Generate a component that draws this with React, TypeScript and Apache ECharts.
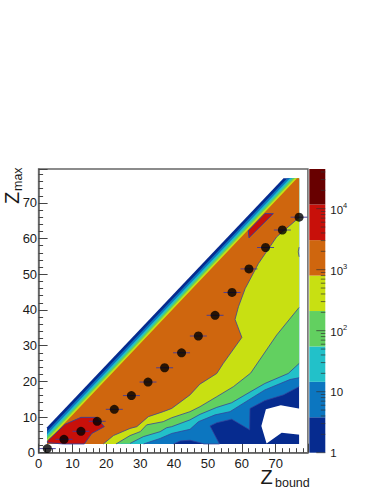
import React, { useEffect, useRef } from "react";
import * as echarts from "echarts";

type P = [number, number];

const xTickMax = 79.5;
const yTickMax = 79.5;
const binLeft = 2.5;
const binRight = 76.9;
const binBottom = 2.45;
const binTop = 76.9;

const bandColors = ["#062b8f", "#0c76c0", "#22c1c9", "#62d060", "#c8e012", "#cf660e", "#c8100a", "#680000"];
const bandEdges = [1, 3.81, 14.5, 55.2, 210, 800, 3050, 11700, 44700];
const diagOffsets = [4.6, 3.5, 2.7, 2.0, 1.3, 0.6];

const navyEdge: P[] = [[76.9, 2.45]];
const blueEdge: P[] = [[39.8, 2.45], [41.8, 3.3], [44.7, 3.5], [47.65, 2.8], [48.8, 2.45], [53.4, 2.45], [50.6, 7.5], [52.6, 8.4], [57, 9.4], [62.3, 6.4], [62.4, 12.4], [66.8, 14.6], [72.25, 16.2], [76.9, 18.5]];
const tealEdge: P[] = [[31, 2.45], [35.9, 4], [39.3, 5.4], [44.7, 6.55], [47.2, 8.7], [52.1, 10.6], [56.5, 11.5], [62.4, 15], [66.8, 17.6], [74.2, 20.5], [76.9, 21]];
const greenEdge: P[] = [[27, 2.6], [30.9, 4.5], [35.9, 5.9], [37.8, 7], [39.3, 7.3], [44.7, 9.2], [47.65, 10.75], [52.6, 12.7], [57, 14], [62.4, 17], [66.8, 19.4], [73.7, 22.2], [76.9, 25]];
const yellowEdge: P[] = [[22.85, 2.45], [27, 4.8], [30, 5.9], [31.9, 7.8], [36.8, 8.7], [39.3, 9.8], [44.7, 11.5], [47.65, 12.9], [52.6, 15.7], [57.5, 18.5], [62.6, 22.3], [70.3, 33], [76.9, 40.7]];
const orangeEdge: P[] = [[19.1, 2.45], [22.1, 4.8], [27, 6.8], [29, 7.3], [32.4, 10.1], [36.8, 11.5], [39.3, 12.4], [44.7, 16.2], [47.6, 19.2], [52.6, 22.2], [54.5, 25], [60, 32.3], [58, 37.35], [59, 40.9], [61, 46], [64.9, 53], [70.3, 60.5], [76.9, 65.9]];
const redMain: P[] = [[2.6, 3.3], [7.8, 7.95], [12.5, 9.9], [17.1, 9.9], [19.4, 7.3], [15.7, 5.4], [13.5, 2.45], [7.3, 2.45], [2.6, 2.8]];
const redIsland: P[] = [[61.9, 62.2], [66.8, 67], [69.3, 67], [62.1, 60.2]];
const orangeSpeck: P[] = [[76.9, 57.6], [76.65, 56.3], [76.9, 54.9]];
const holeEdge: P[] = [[67.1, 12.15], [71.5, 13.3], [77.2, 12.35], [77.2, 5], [71.76, 5.6], [67.3, 2.6], [65.76, 7.5]];

const pointX = [2.57, 7.5, 12.5, 17.3, 22.35, 27.4, 32.3, 37.2, 42.2, 47.16, 52.1, 57.1, 62.1, 67, 71.96, 76.9];
const pointY = [1.15, 3.76, 6, 8.8, 12.15, 16, 19.8, 23.8, 28, 32.7, 38.5, 44.9, 51.5, 57.5, 62.4, 66];
const errorHalfWidth = 2.5;

const barMajorTicks = [1, 10, 100, 1000, 10000];
const barMinorTicks = [2, 3, 4, 5, 6, 7, 8, 9, 20, 30, 40, 50, 60, 70, 80, 90, 200, 300, 400, 500, 600, 700, 800, 900, 2000, 3000, 4000, 5000, 6000, 7000, 8000, 9000, 20000, 30000, 40000];

const FONT = "'Liberation Sans', Arial, sans-serif";
const FRAME = "#666666";
const CONTOUR = "#34409a";

function band(edge: P[], d: number): P[] {
  return [[binLeft, binBottom], ...edge, [binRight, binTop], [binRight - d, binTop], [binLeft, binLeft + d]];
}

export default function App() {
  const ref = useRef<HTMLDivElement>(null);
  useEffect(() => {
    document.body.style.margin = "0";
    const chart = echarts.init(ref.current!, undefined, { renderer: "svg" });
    const edges = [navyEdge, blueEdge, tealEdge, greenEdge, yellowEdge, orangeEdge];
    const shapes: { type: string; pts: P[]; fill?: string; stroke?: string }[] = [];
    edges.forEach((e, i) => shapes.push({ type: "polygon", pts: band(e, diagOffsets[i]), fill: bandColors[i] }));
    shapes.push({ type: "polygon", pts: holeEdge, fill: "#ffffff" });
    shapes.push({ type: "polyline", pts: orangeSpeck, stroke: CONTOUR });
    shapes.push({ type: "polygon", pts: redMain, fill: bandColors[6], stroke: CONTOUR });
    shapes.push({ type: "polygon", pts: redIsland, fill: bandColors[6], stroke: CONTOUR });
    edges.slice(1).forEach((e) => shapes.push({ type: "polyline", pts: e, stroke: CONTOUR }));

    const barRects = bandColors.map((c, i) => ({ c, lo: bandEdges[i], hi: bandEdges[i + 1] }));
    const barTicks = [
      ...barMajorTicks.map((v) => ({ v, len: 9 })),
      ...barMinorTicks.map((v) => ({ v, len: 4.5 })),
    ];

    chart.setOption({
      animation: false,
      backgroundColor: "#ffffff",
      grid: [
        { left: 38.6, top: 169, width: 269.3, height: 283.7, show: true, borderColor: FRAME, borderWidth: 1.5, backgroundColor: "transparent" },
        { left: 309.3, top: 169, width: 16, height: 283.7 },
      ],
      xAxis: [
        {
          gridIndex: 0, type: "value", min: 0, max: xTickMax, interval: 10,
          axisLine: { show: true, lineStyle: { color: FRAME, width: 1.5 } },
          axisTick: { show: true, inside: true, length: 9, lineStyle: { color: "#444444", width: 1 } },
          minorTick: { show: true, splitNumber: 5, length: 4.5, lineStyle: { color: "#444444", width: 1 } },
          splitLine: { show: false },
          axisLabel: { show: true, margin: 4, fontFamily: FONT, fontSize: 13, color: "#1a1a1a", showMaxLabel: false },
        },
        { gridIndex: 1, type: "value", min: 0, max: 1, show: false },
      ],
      yAxis: [
        {
          gridIndex: 0, type: "value", min: 0, max: yTickMax, interval: 10,
          axisLine: { show: true, lineStyle: { color: FRAME, width: 1.5 } },
          axisTick: { show: true, inside: true, length: 9, lineStyle: { color: "#444444", width: 1 } },
          minorTick: { show: true, splitNumber: 5, length: 4.5, lineStyle: { color: "#444444", width: 1 } },
          splitLine: { show: false },
          axisLabel: {
            show: true, margin: 1.5, fontFamily: FONT, fontSize: 13, color: "#1a1a1a", showMaxLabel: false,
            formatter: (v: number) => (v === 0 ? "{z|0}" : String(v)),
            rich: { z: { fontFamily: FONT, fontSize: 13, color: "#1a1a1a", padding: [0, 2, 0, 0] } },
          },
        },
        {
          gridIndex: 1, type: "log", logBase: 10, min: 1, max: 44700, position: "right",
          axisLine: { show: false }, axisTick: { show: false }, splitLine: { show: false }, minorTick: { show: false },
          axisLabel: {
            show: true, margin: 5, fontFamily: FONT, fontSize: 11.5, color: "#1a1a1a",
            showMaxLabel: false,
            formatter: (v: number) => {
              if (Math.abs(v - 1) < 1e-6) return "1";
              if (Math.abs(v - 10) < 1e-6) return "10";
              const e = Math.log10(v);
              if (Math.abs(e - Math.round(e)) > 1e-6) return "";
              return `{b|10}{s|${Math.round(e)}}`;
            },
            rich: {
              b: { fontFamily: FONT, fontSize: 11.5, color: "#1a1a1a", lineHeight: 14, verticalAlign: "bottom" },
              s: { fontFamily: FONT, fontSize: 7.5, color: "#1a1a1a", lineHeight: 14, verticalAlign: "top" },
            },
          },
        },
      ],
      graphic: [
        { type: "text", x: 260.5, y: 467, style: { text: "Z", font: `20px ${FONT}`, fill: "#1a1a1a" } },
        { type: "text", x: 275, y: 476, style: { text: "bound", font: `12.5px ${FONT}`, fill: "#1a1a1a" } },
        { type: "text", x: 2, y: 204, rotation: Math.PI / 2, style: { text: "Z", font: `20px ${FONT}`, fill: "#1a1a1a" } },
        { type: "text", x: 11, y: 191, rotation: Math.PI / 2, style: { text: "max", font: `12.5px ${FONT}`, fill: "#1a1a1a" } },
      ],
      series: [
        {
          type: "custom", xAxisIndex: 0, yAxisIndex: 0, clip: false, silent: true, z: 1,
          data: shapes.map((_, i) => [i, 0]),
          renderItem: (params: any, api: any) => {
            const s = shapes[params.dataIndex];
            return {
              type: s.type,
              shape: { points: s.pts.map((c) => api.coord(c)) },
              style: { fill: s.type === "polygon" ? s.fill : "none", stroke: s.stroke ?? "none", lineWidth: 0.9, opacity: s.stroke && !s.fill ? 0.85 : 1 },
            };
          },
        },
        {
          type: "custom", xAxisIndex: 0, yAxisIndex: 0, clip: false, silent: true, z: 2,
          data: pointX.map((x, i) => [x, pointY[i]]),
          renderItem: (_p: any, api: any) => {
            const x = api.value(0), y = api.value(1);
            const a = api.coord([x - errorHalfWidth, y]);
            const b = api.coord([x + errorHalfWidth, y]);
            return { type: "line", shape: { x1: a[0], y1: a[1], x2: b[0], y2: b[1] }, style: { stroke: "#3f3a9a", lineWidth: 1, opacity: 0.9 } };
          },
        },
        {
          type: "scatter", xAxisIndex: 0, yAxisIndex: 0, clip: false, silent: true, z: 3,
          symbol: "circle", symbolSize: 9, itemStyle: { color: "#000000" },
          data: pointX.map((x, i) => [x, pointY[i]]),
        },
        {
          type: "custom", xAxisIndex: 1, yAxisIndex: 1, clip: false, silent: true, z: 1,
          data: barRects.map((r) => [0, r.lo]),
          renderItem: (params: any, api: any) => {
            const r = barRects[params.dataIndex];
            const a = api.coord([0, r.hi]);
            const b = api.coord([1, r.lo]);
            return { type: "rect", shape: { x: a[0], y: a[1], width: b[0] - a[0], height: b[1] - a[1] }, style: { fill: r.c } };
          },
        },
        {
          type: "custom", xAxisIndex: 1, yAxisIndex: 1, clip: false, silent: true, z: 2,
          data: barTicks.map((t) => [1, t.v]),
          renderItem: (params: any, api: any) => {
            const t = barTicks[params.dataIndex];
            const p = api.coord([1, t.v]);
            return { type: "line", shape: { x1: p[0] - t.len, y1: p[1], x2: p[0], y2: p[1] }, style: { stroke: "#333333", lineWidth: 1, opacity: 0.7 } };
          },
        },
      ],
    });
    return () => chart.dispose();
  }, []);
  return <div ref={ref} style={{ width: 382, height: 494 }} />;
}
